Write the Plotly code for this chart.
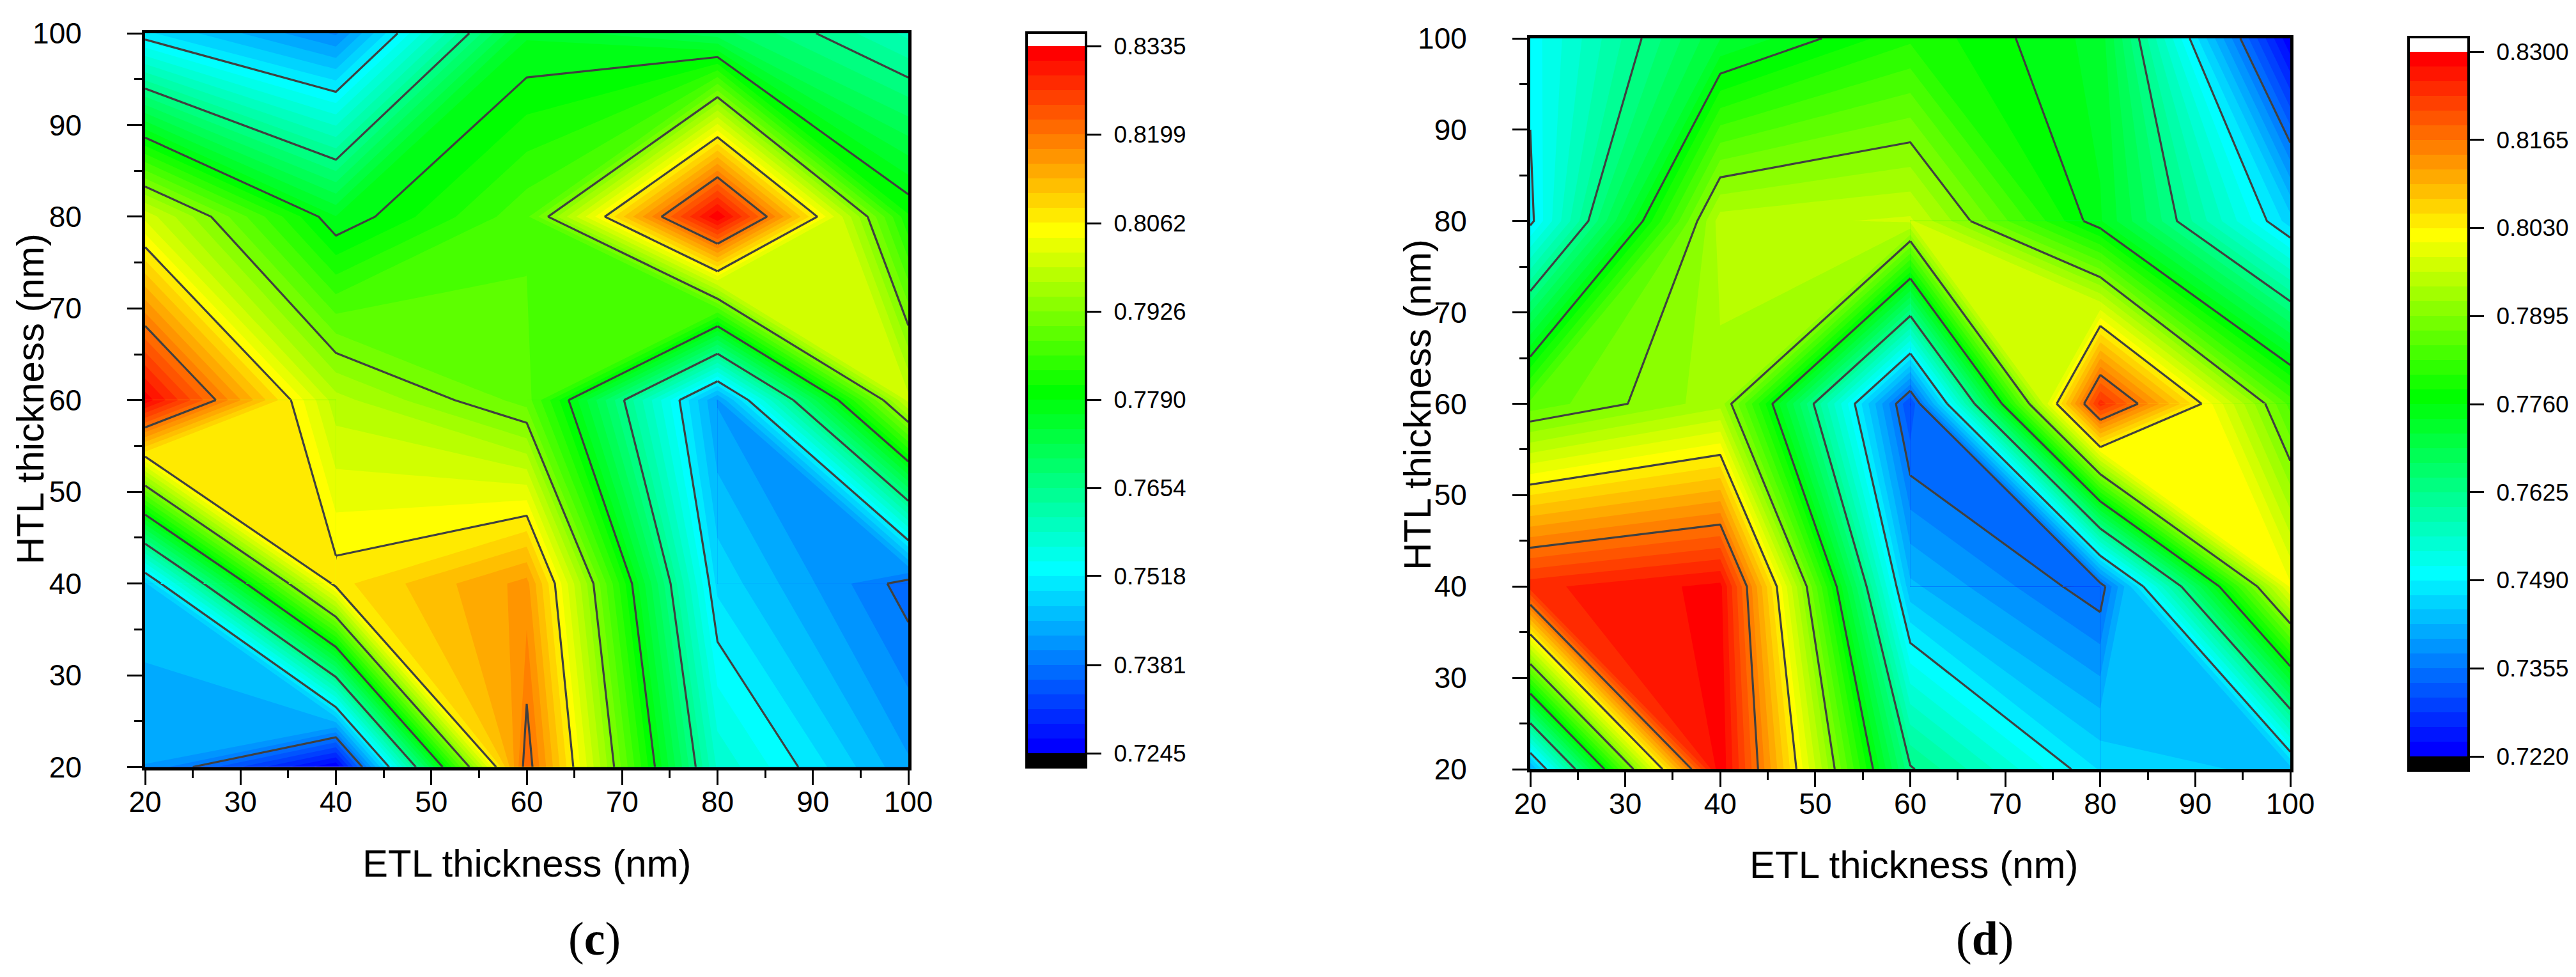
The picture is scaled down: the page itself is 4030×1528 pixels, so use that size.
import numpy as np
import plotly.graph_objects as go

W, H = 4030, 1528

etl = [20, 40, 60, 80, 100]
htl = [20, 40, 60, 80, 100]

# rows: HTL = 20, 40, 60, 80, 100
voc_c = [
    [0.7426, 0.7247, 0.8218, 0.7581, 0.7431],
    [0.7467, 0.8077, 0.8162, 0.7488, 0.7368],
    [0.8327, 0.7981, 0.7893, 0.7424, 0.8002],
    [0.8010, 0.7768, 0.7875, 0.8333, 0.7816],
    [0.7500, 0.7400, 0.7763, 0.7709, 0.7602],
]
voc_d = [
    [0.7415, 0.8298, 0.7629, 0.7465, 0.7435],
    [0.8248, 0.8285, 0.7428, 0.7337, 0.8012],
    [0.7857, 0.7931, 0.7308, 0.8245, 0.7842],
    [0.7481, 0.7952, 0.7967, 0.7740, 0.7455],
    [0.7499, 0.7714, 0.7800, 0.7728, 0.7222],
]
ticks_c = ["0.7245", "0.7381", "0.7518", "0.7654", "0.7790", "0.7926", "0.8062", "0.8199", "0.8335"]
ticks_d = ["0.7220", "0.7355", "0.7490", "0.7625", "0.7760", "0.7895", "0.8030", "0.8165", "0.8300"]
x_title = "ETL thickness (nm)"
y_title = "HTL thickness (nm)"
NBANDS = 48
LINE_EVERY = 6
LINE_COLOR = "#404040"
LINE_WIDTH = 3.2

# Origin "Rainbow" anchors (band index, rgb)
anchors = [(0, (0, 0, 255)), (12, (0, 255, 255)), (24, (0, 255, 0)), (35, (255, 255, 0)), (47, (255, 0, 0))]


def band_colours():
    idx = [a[0] for a in anchors]
    out = ["rgb(0,0,0)"]
    for i in range(NBANDS):
        rgb = [int(round(np.interp(i, idx, [a[1][c] for a in anchors]))) for c in range(3)]
        out.append(f"rgb({rgb[0]},{rgb[1]},{rgb[2]})")
    out.append("rgb(255,255,255)")
    return out


cols = band_colours()
cscale = [[j / (len(cols) - 1), c] for j, c in enumerate(cols)]

fig = go.Figure()
fig.update_layout(template="none")


def dx(a, b):
    return [a / W, b / W]


def dy(top, bottom):
    return [1 - bottom / H, 1 - top / H]


FONT = "Liberation Sans"
AXC = "#000000"


def cell_corners(z, i, j):
    """Corners of one grid cell in the order BL, BR, TR, TL: (x, y, value)."""
    return [(etl[i], htl[j], z[j][i]), (etl[i + 1], htl[j], z[j][i + 1]),
            (etl[i + 1], htl[j + 1], z[j + 1][i + 1]), (etl[i], htl[j + 1], z[j + 1][i])]


def cross(a, b, level):
    t = (level - a[2]) / (b[2] - a[2])
    return (a[0] + t * (b[0] - a[0]), a[1] + t * (b[1] - a[1]))


def is_saddle(c, level):
    up = [p[2] >= level for p in c]
    return up[0] == up[2] and up[1] == up[3] and up[0] != up[1]


def region_above(c, level):
    """Polygons of {z >= level} in a cell; at a saddle the TL-BR diagonal stays joined."""
    up = [p[2] >= level for p in c]
    if not any(up):
        return []
    if is_saddle(c, level) and up[0]:
        return [[c[0][:2], cross(c[0], c[1], level), cross(c[3], c[0], level)],
                [c[2][:2], cross(c[2], c[3], level), cross(c[1], c[2], level)]]
    poly = []
    for k in range(4):
        n = (k + 1) % 4
        if up[k]:
            poly.append(c[k][:2])
        if up[k] != up[n]:
            poly.append(cross(c[k], c[n], level))
    return [poly]


def level_segments(c, level):
    up = [p[2] >= level for p in c]
    if all(up) or not any(up):
        return []
    if is_saddle(c, level):
        return [(cross(c[0], c[1], level), cross(c[3], c[0], level)),
                (cross(c[1], c[2], level), cross(c[2], c[3], level))]
    pts = [cross(c[k], c[(k + 1) % 4], level) for k in range(4) if up[k] != up[(k + 1) % 4]]
    return [(pts[0], pts[1])]


def panel(n, z, ticks, x0, x1, y0, y1, bx0, bx1, by0, by1, tick_top, tick_bot, xt, yt):
    low, high = float(ticks[0]), float(ticks[-1])
    step = (high - low) / NBANDS
    xa, ya = ("x", "y") if n == 0 else (f"x{2*n+1}", f"y{2*n+1}")
    xb, yb = f"x{2*n+2}", f"y{2*n+2}"
    fig.add_trace(go.Contour(
        x=etl, y=htl, z=z, xaxis=xa, yaxis=ya, colorscale=cscale, showscale=False,
        autocontour=False, hoverinfo="skip",
        contours=dict(start=low, end=high, size=step, coloring="fill", showlines=False),
        line=dict(width=0, smoothing=0),
    ))
    fig.add_trace(go.Contour(
        x=etl, y=htl, z=z, xaxis=xa, yaxis=ya, showscale=False, autocontour=False, hoverinfo="skip",
        contours=dict(start=low + LINE_EVERY * step, end=high - LINE_EVERY * step + step / 10,
                      size=LINE_EVERY * step, coloring="none"),
        line=dict(color=LINE_COLOR, width=LINE_WIDTH, smoothing=0),
    ))

    # Cells that hold a saddle: the original joins them along the TL-BR diagonal, so these
    # cells are redrawn from the same grid values with that pairing.
    levels = [low + k * step for k in range(NBANDS)]
    saddle_cells = []
    for i in range(len(etl) - 1):
        for j in range(len(htl) - 1):
            c = cell_corners(z, i, j)
            if any(is_saddle(c, L) for L in levels):
                saddle_cells.append(c)
    for k, L in enumerate(levels):
        xs, ys = [], []
        for c in saddle_cells:
            for poly in region_above(c, L):
                xs += [p[0] for p in poly] + [poly[0][0], None]
                ys += [p[1] for p in poly] + [poly[0][1], None]
        if xs:
            fig.add_trace(go.Scatter(x=xs, y=ys, xaxis=xa, yaxis=ya, mode="none", fill="toself",
                                     fillcolor=cols[k + 1], hoverinfo="skip", showlegend=False))
    xs, ys = [], []
    for k in range(LINE_EVERY, NBANDS, LINE_EVERY):
        for c in saddle_cells:
            for a, b in level_segments(c, levels[k]):
                xs += [a[0], b[0], None]
                ys += [a[1], b[1], None]
    if xs:
        fig.add_trace(go.Scatter(x=xs, y=ys, xaxis=xa, yaxis=ya, mode="lines",
                                 line=dict(color=LINE_COLOR, width=LINE_WIDTH),
                                 hoverinfo="skip", showlegend=False))

    centres = low - step / 2 + step * np.arange(NBANDS + 2)
    fig.add_trace(go.Heatmap(
        x=[0, 1], y=centres, z=[[v, v] for v in centres], xaxis=xb, yaxis=yb,
        colorscale=cscale, zmin=low - step / 2, zmax=high + step / 2, showscale=False,
        hoverinfo="skip",
    ))
    xname = "xaxis" if n == 0 else f"xaxis{2*n+1}"
    yname = "yaxis" if n == 0 else f"yaxis{2*n+1}"
    minor = dict(dtick=5, ticks="outside", ticklen=12, tickwidth=3, tickcolor=AXC, showgrid=False)
    common = dict(range=[20, 100], dtick=10, tick0=20, ticks="outside", ticklen=23, tickwidth=3,
                  tickcolor=AXC, showline=True, linecolor=AXC, linewidth=5, mirror=True,
                  showgrid=False, zeroline=False, minor=minor, automargin=False, layer="above traces",
                  tickfont=dict(family=FONT, size=46, color="black"))
    fig.update_layout({
        xname: dict(common, domain=dx(x0, x1), anchor=ya, ticklabelstandoff=-13),
        yname: dict(common, domain=dy(y0, y1), anchor=xa, ticklabelstandoff=62),
    })
    per = (tick_bot - tick_top) / (high - low)
    fig.update_layout({
        f"xaxis{2*n+2}": dict(domain=dx(bx0, bx1), anchor=yb, range=[0, 1], showticklabels=False, ticks="",
                              showline=True, linecolor="black", linewidth=4, mirror=True,
                              showgrid=False, zeroline=False, automargin=False),
        f"yaxis{2*n+2}": dict(domain=dy(by0, by1), anchor=xb, side="right", automargin=False,
                              range=[low - (by1 - tick_bot) / per, high + (tick_top - by0) / per],
                              tickmode="array", tickvals=[float(t) for t in ticks], ticktext=ticks,
                              ticks="outside", ticklen=22, tickwidth=3, tickcolor="black",
                              ticklabelstandoff=12,
                              showline=True, linecolor="black", linewidth=4, mirror=True,
                              showgrid=False, zeroline=False,
                              tickfont=dict(family=FONT, size=37, color="black")),
    })
    fig.add_annotation(text=x_title, x=xt[0] / W, y=1 - xt[1] / H, xref="paper", yref="paper", showarrow=False,
                       xanchor="center", yanchor="middle", font=dict(family=FONT, size=60, color="black"))
    fig.add_annotation(text=y_title, x=yt[0] / W, y=1 - yt[1] / H, xref="paper", yref="paper", showarrow=False,
                       textangle=-90, xanchor="center", yanchor="middle",
                       font=dict(family=FONT, size=60, color="black"))


panel(0, voc_c, ticks_c, 227, 1421, 52, 1199.5, 1608, 1697, 53, 1198, 72, 1178, (824, 1350), (47, 624))
panel(1, voc_d, ticks_d, 2394, 3583, 60, 1203, 3770, 3860, 60, 1203, 81, 1183, (2994, 1352), (2218, 633))

captions = [("c", 930), ("d", 3105)]
for letter, cx in captions:
    fig.add_annotation(text=f"(<b>{letter}</b>)", x=cx / W, y=1 - 1468 / H, xref="paper", yref="paper",
                       showarrow=False, xanchor="center", yanchor="middle",
                       font=dict(family="Liberation Serif", size=74, color="black"))

fig.update_layout(width=W, height=H, autosize=False, margin=dict(l=0, r=0, t=0, b=0, pad=0),
                  paper_bgcolor="white", plot_bgcolor="white", showlegend=False)
fig.write_html("out.html", config={"displayModeBar": False},
               post_script="document.body.style.margin='0';document.documentElement.style.overflow='hidden';")
